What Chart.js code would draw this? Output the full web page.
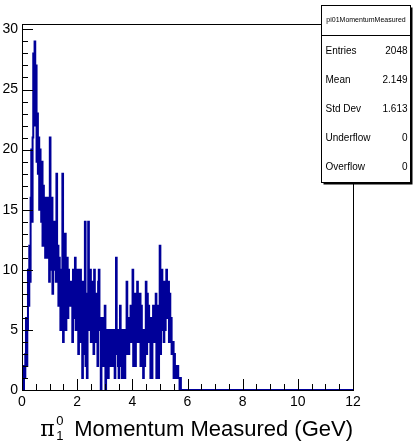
<!DOCTYPE html>
<html>
<head>
<meta charset="utf-8">
<script src="https://cdn.jsdelivr.net/npm/chart.js@4/dist/chart.umd.min.js"></script>
<style>
  html, body { margin: 0; padding: 0; background: #fff; }
  #wrap { width: 414px; height: 441px; }
</style>
</head>
<body>
<div id="wrap"><canvas id="hist" width="414" height="441"></canvas></div>
<script>
// histogram pi01MomentumMeasured: 500 bins on [0, 12], only the filled part listed
var binWidth = 0.024;
var counts = [
    0, 1, 0, 2, 1, 3, 6, 2, 5, 10, 7, 12, 9, 16, 20, 14, 21, 28, 24, 29,
    22, 27, 19, 23, 18, 21, 15, 20, 17, 14, 19, 12, 17, 13, 15, 11, 16, 12, 14, 11,
    16, 9, 21, 10, 14, 16, 8, 13, 10, 14, 11, 9, 18, 10, 12, 7, 11, 9, 5, 10,
    6, 18, 4, 12, 8, 13, 5, 9, 11, 6, 10, 8, 7, 9, 8, 9, 4, 10, 6, 8,
    11, 5, 9, 7, 10, 3, 9, 6, 10, 4, 8, 1, 9, 3, 7, 14, 2, 8, 1, 7,
    14, 5, 9, 10, 4, 8, 6, 9, 3, 10, 5, 8, 4, 7, 2, 9, 10, 5, 6, 0,
    4, 6, 2, 5, 3, 7, 0, 5, 2, 5, 1, 4, 3, 5, 2, 5, 3, 4, 2, 5,
    1, 4, 11, 3, 5, 2, 1, 5, 7, 2, 5, 1, 5, 3, 4, 1, 5, 3, 9, 4,
    6, 3, 5, 4, 7, 4, 6, 10, 2, 6, 8, 2, 6, 4, 9, 4, 8, 5, 8, 2,
    7, 3, 5, 1, 4, 2, 5, 9, 3, 8, 4, 7, 4, 6, 1, 6, 1, 5, 7, 4,
    6, 5, 8, 1, 6, 7, 1, 5, 12, 3, 8, 10, 5, 9, 4, 9, 5, 7, 10, 6,
    8, 9, 4, 8, 5, 6, 3, 4, 4, 1, 3, 2, 1, 2, 1, 2, 1, 1, 0, 1
];
var xMin = 0, xMax = 12;
var yMax = 30.45;
var xTicks = [0, 2, 4, 6, 8, 10, 12];
var yTicks = [0, 5, 10, 15, 20, 25, 30];
var histName = 'pi01MomentumMeasured';
var statLabels = ['Entries', 'Mean', 'Std Dev', 'Underflow', 'Overflow'];
var statValues = ['2048', '2.149', '1.613', '0', '0'];

var SANS = '"Liberation Sans", Arial, Helvetica, sans-serif';
var LINE = '#000099';

// step outline points at the left edge of every bin
var points = counts.map(function (c, i) { return { x: i * binWidth, y: c }; });
points.push({ x: counts.length * binWidth, y: 0 });
points.push({ x: xMax, y: 0 });

// ROOT-like frame, inward ticks, x title and stat box
var rootStyle = {
    id: 'rootStyle',
    afterDatasetsDraw: function (chart) {
        var ctx = chart.ctx;
        var a = chart.chartArea;
        var xs = chart.scales.x, ys = chart.scales.y;
        ctx.save();
        ctx.strokeStyle = '#000';
        ctx.lineWidth = 1;
        ctx.strokeRect(Math.round(a.left) + 0.5, Math.round(a.top) + 0.5,
            Math.round(a.right - a.left), Math.round(a.bottom - a.top));

        ctx.beginPath();
        // y ticks every 1, major every 5
        for (var v = 0; v <= 30; v++) {
            var py = Math.round(ys.getPixelForValue(v)) + 0.5;
            var len = v % 5 === 0 ? 11 : 6;
            ctx.moveTo(a.left, py);
            ctx.lineTo(a.left + len, py);
        }
        // x ticks every 0.5, major every 2
        for (var k = 0; k <= 24; k++) {
            var px = Math.round(xs.getPixelForValue(k * 0.5)) + 0.5;
            var l2 = k % 4 === 0 ? 11 : 6;
            ctx.moveTo(px, a.bottom);
            ctx.lineTo(px, a.bottom - l2);
        }
        ctx.stroke();

        // axis title, right aligned to the end of the axis
        ctx.fillStyle = '#000';
        ctx.textBaseline = 'alphabetic';
        ctx.font = '22px ' + SANS;
        var main = 'Momentum Measured (GeV)';
        var mw = ctx.measureText(main).width;
        var x0 = a.right - mw;
        var base = 436;
        ctx.fillText(main, x0, base);
        ctx.font = '22px "DejaVu Serif", "Liberation Serif", serif';
        ctx.fillText('\u03c0', x0 - 34, base);
        ctx.font = '13px ' + SANS;
        ctx.fillText('1', x0 - 18, base + 4);
        ctx.fillText('0', x0 - 18, base - 11);
        ctx.restore();
    },
    afterDraw: function (chart) {
        var ctx = chart.ctx;
        var bx = 321.5, by = 5.5, bw = 89, bh = 177;
        ctx.save();
        // shadow
        ctx.fillStyle = '#000';
        ctx.fillRect(bx + 2, by + 2, bw, bh);
        ctx.fillStyle = '#fff';
        ctx.fillRect(bx, by, bw, bh);
        ctx.strokeStyle = '#000';
        ctx.lineWidth = 1;
        ctx.strokeRect(bx, by, bw, bh);
        ctx.beginPath();
        ctx.moveTo(bx, by + 30);
        ctx.lineTo(bx + bw, by + 30);
        ctx.stroke();

        ctx.fillStyle = '#000';
        ctx.textBaseline = 'middle';
        ctx.textAlign = 'center';
        ctx.font = '7px ' + SANS;
        ctx.fillText(histName, bx + bw / 2, by + 15);

        ctx.font = '10px ' + SANS;
        for (var i = 0; i < statLabels.length; i++) {
            var ty = 51 + i * 29;
            ctx.textAlign = 'left';
            ctx.fillText(statLabels[i], bx + 4, ty);
            ctx.textAlign = 'right';
            ctx.fillText(statValues[i], bx + bw - 3, ty);
        }
        ctx.restore();
    }
};

new Chart(document.getElementById('hist'), {
    type: 'line',
    data: {
        datasets: [{
            data: points,
            borderColor: LINE,
            borderWidth: 2,
            pointRadius: 0,
            fill: false,
            stepped: 'before',
            tension: 0
        }]
    },
    options: {
        responsive: false,
        animation: false,
        devicePixelRatio: 1,
        parsing: false,
        layout: { padding: { left: 0, right: 61, top: 24, bottom: 0 } },
        plugins: {
            legend: { display: false },
            tooltip: { enabled: false }
        },
        scales: {
            x: {
                type: 'linear',
                min: xMin,
                max: xMax,
                afterBuildTicks: function (s) { s.ticks = xTicks.map(function (v) { return { value: v }; }); },
                afterFit: function (s) { s.height = 51; },
                grid: { display: false, drawTicks: false },
                border: { display: false },
                ticks: {
                    autoSkip: false, maxRotation: 0, padding: 4, color: '#000',
                    font: { family: SANS, size: 14 }
                }
            },
            y: {
                type: 'linear',
                min: 0,
                max: yMax,
                afterBuildTicks: function (s) { s.ticks = yTicks.map(function (v) { return { value: v }; }); },
                afterFit: function (s) { s.width = 22; },
                grid: { display: false, drawTicks: false },
                border: { display: false },
                ticks: {
                    autoSkip: false, padding: 4, color: '#000',
                    font: { family: SANS, size: 14 }
                }
            }
        }
    },
    plugins: [rootStyle]
});
</script>
</body>
</html>
